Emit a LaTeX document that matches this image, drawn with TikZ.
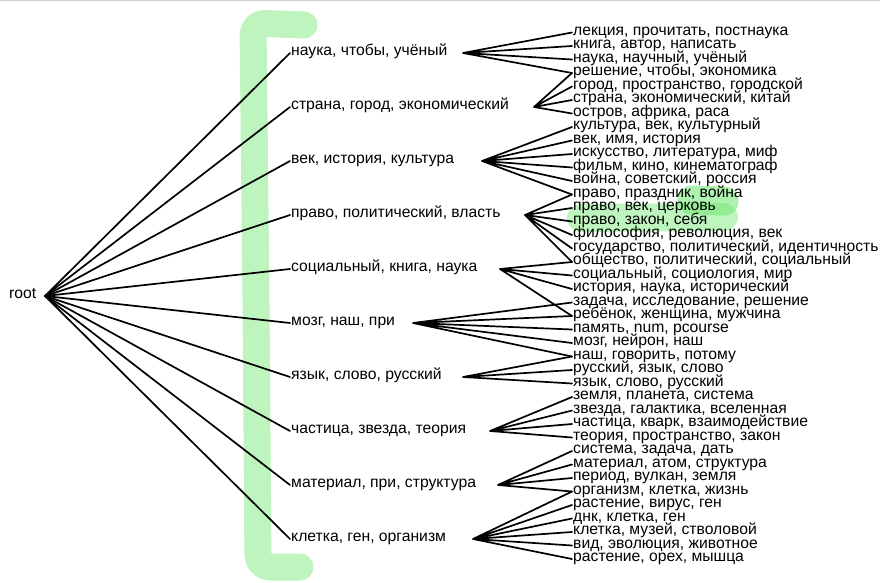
\documentclass[tikz,border=0pt]{standalone}
\usepackage{fontspec}
\setmainfont{Liberation Sans}
\definecolor{marker}{RGB}{110,230,110}

\begin{document}
\begin{tikzpicture}[x=1pt, y=-1pt,
    word/.style={anchor=west, inner xsep=1pt, inner ysep=0pt, text height=0.52em, text depth=0pt, font=\fontsize{15.7}{16}\selectfont},
    link/.style={line width=1.7pt, line cap=round},
    hilite/.style={marker, opacity=0.45, line cap=round, line join=round}]
    \useasboundingbox (0,0) rectangle (880,583);
    \fill[black!18] (0,0) rectangle (880,1.5);

    % Marker strokes
    \draw[hilite, line width=27pt, rounded corners=12pt] (304,25) -- (253,23) -- (256,300) -- (258,567) -- (300,567);
    \draw[hilite, line width=28pt] (581,218) -- (724,217);
    \draw[hilite, opacity=0.55, line width=29pt] (692,200) -- (724,201);

    % Root
    \node[word] (root) at (8,296) {root};
    \coordinate (rootc) at (45,296);

    % Topics
    \node[word] (t1) at (290,53) {наука, чтобы, учёный};
    \node[word] (t2) at (290,107) {страна, город, экономический};
    \node[word] (t3) at (290,161) {век, история, культура};
    \node[word] (t4) at (290,215) {право, политический, власть};
    \node[word] (t5) at (290,269) {социальный, книга, наука};
    \node[word] (t6) at (290,323) {мозг, наш, при};
    \node[word] (t7) at (290,377) {язык, слово, русский};
    \node[word] (t8) at (290,431) {частица, звезда, теория};
    \node[word] (t9) at (290,485) {материал, при, структура};
    \node[word] (t10) at (290,539) {клетка, ген, организм};

    % Topic fork points
    \coordinate (j1) at (463,53);
    \coordinate (j2) at (534,107);
    \coordinate (j3) at (482,161);
    \coordinate (j4) at (525,215);
    \coordinate (j5) at (500,269);
    \coordinate (j6) at (413,323);
    \coordinate (j7) at (463,377);
    \coordinate (j8) at (490,431);
    \coordinate (j9) at (498,485);
    \coordinate (j10) at (473,539);

    % Subtopics
    \node[word] (s1) at (572,32.5) {лекция, прочитать, постнаука};
    \node[word] (s2) at (572,46) {книга, автор, написать};
    \node[word] (s3) at (572,59.5) {наука, научный, учёный};
    \node[word] (s4) at (572,73) {решение, чтобы, экономика};
    \node[word] (s5) at (572,86.5) {город, пространство, городской};
    \node[word] (s6) at (572,100) {страна, экономический, китай};
    \node[word] (s7) at (572,113.5) {остров, африка, раса};
    \node[word] (s8) at (572,127) {культура, век, культурный};
    \node[word] (s9) at (572,140.5) {век, имя, история};
    \node[word] (s10) at (572,154) {искусство, литература, миф};
    \node[word] (s11) at (572,167.5) {фильм, кино, кинематограф};
    \node[word] (s12) at (572,181) {война, советский, россия};
    \node[word] (s13) at (572,194.5) {право, праздник, война};
    \node[word] (s14) at (572,208) {право, век, церковь};
    \node[word] (s15) at (572,221.5) {право, закон, себя};
    \node[word] (s16) at (572,235) {философия, революция, век};
    \node[word] (s17) at (572,248.5) {государство, политический, идентичность};
    \node[word] (s18) at (572,262) {общество, политический, социальный};
    \node[word] (s19) at (572,275.5) {социальный, социология, мир};
    \node[word] (s20) at (572,289) {история, наука, исторический};
    \node[word] (s21) at (572,302.5) {задача, исследование, решение};
    \node[word] (s22) at (572,316) {ребёнок, женщина, мужчина};
    \node[word] (s23) at (572,329.5) {память, num, pcourse};
    \node[word] (s24) at (572,343) {мозг, нейрон, наш};
    \node[word] (s25) at (572,356.5) {наш, говорить, потому};
    \node[word] (s26) at (572,370) {русский, язык, слово};
    \node[word] (s27) at (572,383.5) {язык, слово, русский};
    \node[word] (s28) at (572,397) {земля, планета, система};
    \node[word] (s29) at (572,410.5) {звезда, галактика, вселенная};
    \node[word] (s30) at (572,424) {частица, кварк, взаимодействие};
    \node[word] (s31) at (572,437.5) {теория, пространство, закон};
    \node[word] (s32) at (572,451) {система, задача, дать};
    \node[word] (s33) at (572,464.5) {материал, атом, структура};
    \node[word] (s34) at (572,478) {период, вулкан, земля};
    \node[word] (s35) at (572,491.5) {организм, клетка, жизнь};
    \node[word] (s36) at (572,505) {растение, вирус, ген};
    \node[word] (s37) at (572,518.5) {днк, клетка, ген};
    \node[word] (s38) at (572,532) {клетка, музей, стволовой};
    \node[word] (s39) at (572,545.5) {вид, эволюция, животное};
    \node[word] (s40) at (572,559) {растение, орех, мышца};

    % Root to topics
    \draw[link] (rootc) -- (t1.west);
    \draw[link] (rootc) -- (t2.west);
    \draw[link] (rootc) -- (t3.west);
    \draw[link] (rootc) -- (t4.west);
    \draw[link] (rootc) -- (t5.west);
    \draw[link] (rootc) -- (t6.west);
    \draw[link] (rootc) -- (t7.west);
    \draw[link] (rootc) -- (t8.west);
    \draw[link] (rootc) -- (t9.west);
    \draw[link] (rootc) -- (t10.west);

    % Topics to subtopics
    \draw[link] (j1) -- (s1.west) (j1) -- (s2.west) (j1) -- (s3.west) (j1) -- (s4.west);
    \draw[link] (j2) -- (s4.west) (j2) -- (s5.west) (j2) -- (s6.west) (j2) -- (s7.west);
    \draw[link] (j3) -- (s8.west) (j3) -- (s9.west) (j3) -- (s10.west) (j3) -- (s11.west) (j3) -- (s12.west) (j3) -- (s13.west);
    \draw[link] (j4) -- (s13.west) (j4) -- (s14.west) (j4) -- (s15.west) (j4) -- (s16.west) (j4) -- (s17.west) (j4) -- (s18.west);
    \draw[link] (j5) -- (s18.west) (j5) -- (s19.west) (j5) -- (s20.west) (j5) -- (s22.west);
    \draw[link] (j6) -- (s21.west) (j6) -- (s22.west) (j6) -- (s23.west) (j6) -- (s24.west) (j6) -- (s25.west);
    \draw[link] (j7) -- (s25.west) (j7) -- (s26.west) (j7) -- (s27.west);
    \draw[link] (j8) -- (s28.west) (j8) -- (s29.west) (j8) -- (s30.west) (j8) -- (s31.west);
    \draw[link] (j9) -- (s32.west) (j9) -- (s33.west) (j9) -- (s34.west) (j9) -- (s35.west);
    \draw[link] (j10) -- (s35.west) (j10) -- (s36.west) (j10) -- (s37.west) (j10) -- (s38.west) (j10) -- (s39.west) (j10) -- (s40.west);
\end{tikzpicture}
\end{document}
